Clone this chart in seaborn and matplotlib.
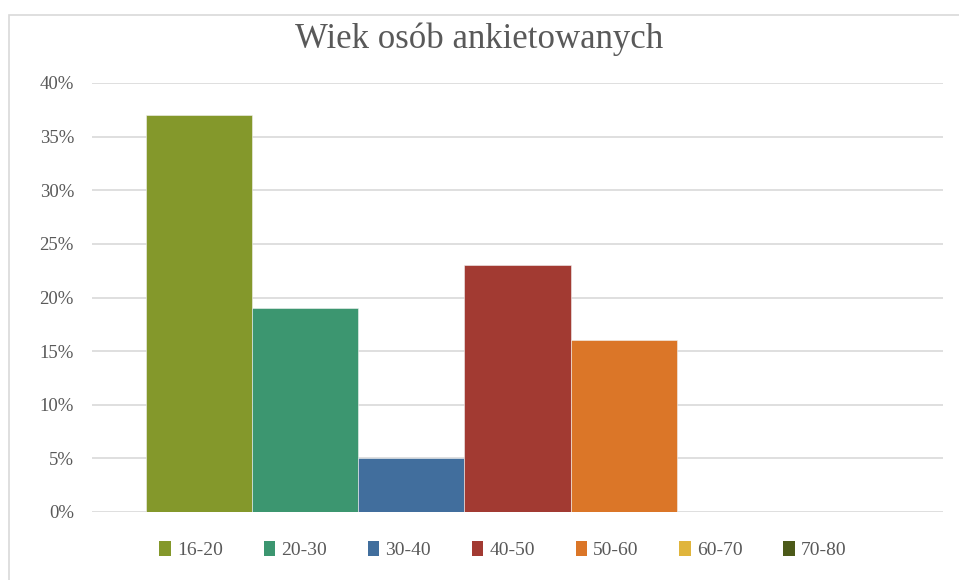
import matplotlib
matplotlib.use('Agg')
import matplotlib.pyplot as plt
import matplotlib.patches as mpatches
import seaborn as sns
import pandas as pd
from matplotlib.ticker import PercentFormatter

# age groups and share of respondents (%)
age_groups = ['16-20', '20-30', '30-40', '40-50', '50-60', '60-70', '70-80']
shares = [37, 19, 5, 23, 16, 0, 0]
colors = ['#84982B', '#3C9670', '#416E9D', '#A23A32', '#DB7628', '#E0B53C', '#4C5A19']
y_ticks = [0, 5, 10, 15, 20, 25, 30, 35, 40]

df = pd.DataFrame({'Kategoria': [''] * len(age_groups), 'Wiek': age_groups, 'Udział': shares})

sns.set_style('white')
plt.rcParams['font.family'] = ['Liberation Serif', 'DejaVu Serif']

fig = plt.figure(figsize=(9.59, 5.80), dpi=100)
ax = fig.add_axes([92 / 959, 68 / 580, 851 / 959, 429 / 580])

# outer chart border
fig.patches.append(mpatches.Rectangle((9 / 959, -0.1), 1.2, (580 - 15) / 580 + 0.1,
                                      transform=fig.transFigure, fill=False,
                                      edgecolor='#D9D9D9', linewidth=1.2))

ax.yaxis.grid(True, color='#D9D9D9', linewidth=1.2, zorder=0)
ax.set_axisbelow(True)
sns.barplot(data=df, x='Kategoria', y='Udział', hue='Wiek', palette=colors,
            saturation=1, width=0.872, gap=0, ax=ax, edgecolor='#F2F2F2',
            linewidth=0.4, legend=False, zorder=3)

ax.set_xlim(-0.5, 0.5)
ax.set_ylim(0, 40)
ax.set_yticks(y_ticks)
ax.yaxis.set_major_formatter(PercentFormatter(decimals=0))
ax.tick_params(axis='y', labelsize=13.5, labelcolor='#595959', length=0, pad=13)
ax.set_xticks([])
ax.set_xlabel('')
ax.set_ylabel('')
for s in ax.spines.values():
    s.set_visible(False)

fig.text(0.5, 1 - 39 / 580, 'Wiek osób ankietowanych', ha='center', va='center',
         fontsize=25, color='#595959')

handles = [mpatches.Patch(facecolor=c, edgecolor='none', label=g) for g, c in zip(age_groups, colors)]
fig.legend(handles=handles, loc='center', bbox_to_anchor=(503 / 959, 1 - 550 / 580), ncol=7,
           frameon=False, fontsize=14, handlelength=0.6, handleheight=0.8,
           handletextpad=0.3, columnspacing=2.1, labelcolor='#595959')

plt.savefig('out.png', dpi=100)
plt.close()
